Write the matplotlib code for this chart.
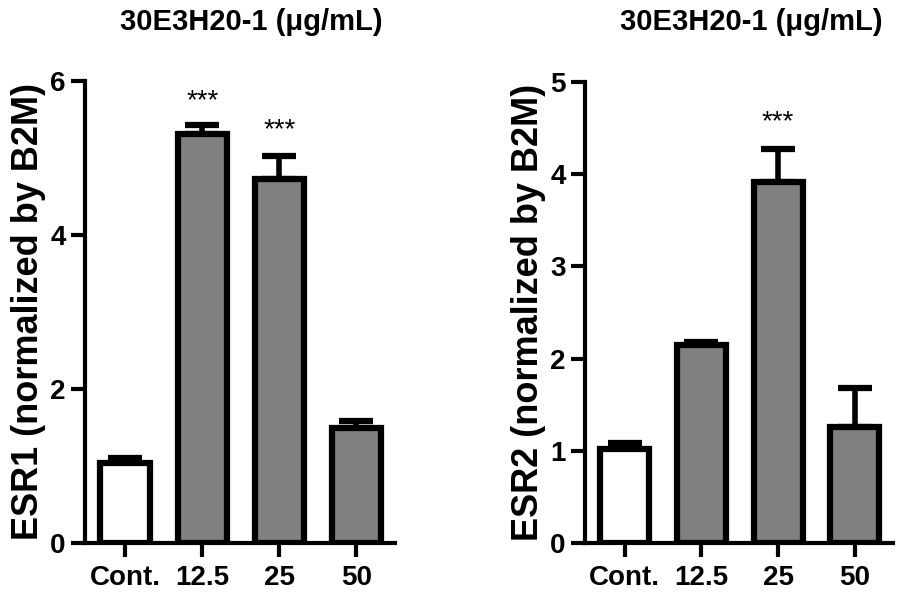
import numpy as np
import matplotlib.pyplot as plt

plt.rcParams['font.family'] = ['Liberation Sans', 'DejaVu Sans']

groups = ['Cont.', '12.5', '25', '50']
esr1 = [1.04, 5.31, 4.73, 1.50]
esr1_err = [0.06, 0.12, 0.30, 0.09]
esr2 = [1.02, 2.15, 3.92, 1.26]
esr2_err = [0.06, 0.03, 0.35, 0.42]
colors = ['white', '#808080', '#808080', '#808080']
stars1 = ['', '***', '***', '']
stars2 = ['', '', '***', '']
title = '30E3H20-1 (\u03bcg/mL)'

fig = plt.figure(figsize=(8.98, 5.99), dpi=100)
ax1 = fig.add_axes([85/898, 1-543/599, 310/898, 462/599])
ax2 = fig.add_axes([585/898, 1-543/599, 308/898, 461/599])


def panel(ax, vals, errs, stars, ymax, yticks, ylabel, star_y):
    x = np.arange(len(groups))
    ax.bar(x, vals, width=0.64, color=colors, edgecolor='black', linewidth=4.5, zorder=3)
    ax.errorbar(x, vals, yerr=[np.zeros(len(errs)), errs], fmt='none', ecolor='black',
                elinewidth=4, capsize=12, capthick=4.5, zorder=2)
    for xi, s, yy in zip(x, stars, star_y):
        if s:
            ax.text(xi, yy, s, ha='center', va='center', fontsize=20)
    ax.set_xlim(-0.52, 3.5)
    ax.set_ylim(0, ymax)
    ax.set_yticks(yticks)
    ax.set_xticks(x)
    ax.set_xticklabels(groups)
    for sp in ['top', 'right']:
        ax.spines[sp].set_visible(False)
    for sp in ['left', 'bottom']:
        ax.spines[sp].set_linewidth(3)
    ax.tick_params(width=3, length=10, labelsize=20, pad=6)
    ax.tick_params(axis='y', pad=4)
    for lab in ax.get_xticklabels() + ax.get_yticklabels():
        lab.set_fontweight('bold')
    ax.set_ylabel(ylabel, fontsize=26, fontweight='bold', labelpad=3)


panel(ax1, esr1, esr1_err, stars1, 6, [0, 2, 4, 6], 'ESR1 (normalized by B2M)', [0, 5.74, 5.36, 0])
panel(ax2, esr2, esr2_err, stars2, 5, [0, 1, 2, 3, 4, 5], 'ESR2 (normalized by B2M)', [0, 0, 4.56, 0])

fig.text(251/898, 1-22/599, title, ha='center', va='center', fontsize=21, fontweight='bold')
fig.text(751/898, 1-22/599, title, ha='center', va='center', fontsize=21, fontweight='bold')

fig.savefig('out.png', dpi=100)
